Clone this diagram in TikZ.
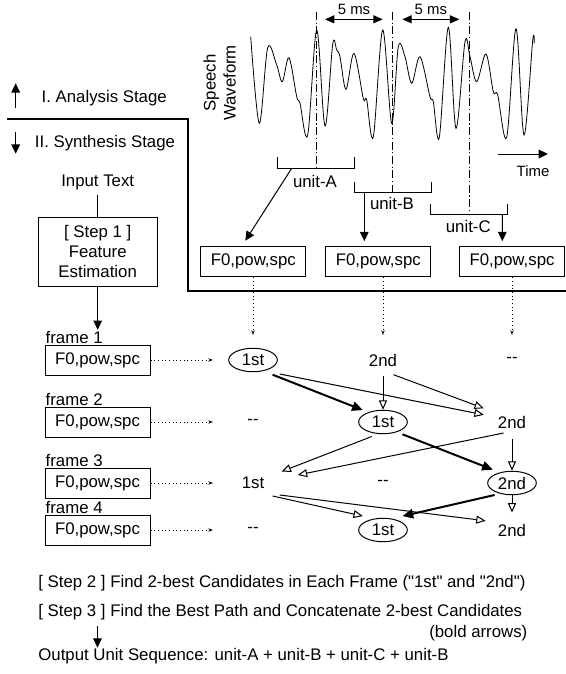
\documentclass[tikz,border=0pt]{standalone}
\usepackage{fontspec}
\setmainfont{Liberation Sans}
\newfontfamily\gerade{Liberation Sans}
\usetikzlibrary{arrows.meta,shapes.geometric}

\begin{document}
\begin{tikzpicture}[x=0.75pt,y=-0.75pt,line width=0.75pt,
  font=\fontsize{12.6}{15}\selectfont,
  kasten/.style={draw,minimum width=78.75pt,minimum height=22.5pt,inner sep=0pt},
  kand/.style={ellipse,draw,minimum width=36.5pt,minimum height=17.6pt,inner sep=0pt},
  pfeil/.style={-{Triangle[length=7pt,width=6.5pt]}},
  offen/.style={-{Triangle[open,length=7pt,width=6pt]}},
  fett/.style={line width=1.5pt,-{Triangle[length=8pt,width=7pt]}},
  punkt/.style={dotted,-{Stealth[length=3.5pt,width=2.5pt]}},
  strichpunkt/.style={dash pattern=on 6pt off 2pt on 0.8pt off 2pt},
  klein/.style={font=\fontsize{11.2}{13}\selectfont}]

\useasboundingbox (0,0) rectangle (566,674);

% Sprachsignal
\draw[line width=0.6pt] plot[smooth,tension=0.55] coordinates {
  (250.7,36.7) (259.3,123.3) (267.7,47.7) (276.7,65) (282.3,81.7) (289,57.7)
  (296.7,96.7) (300,103.3) (307.7,135) (316.7,30) (325,126) (332.7,44.3)
  (336.7,50) (340,56.7) (346,89.3) (354,53.3) (363.3,98.3) (366.7,100)
  (373.3,136.7) (382.7,30) (391.7,123.3) (398.3,46.7) (405,56.7) (411.7,83.3)
  (420,56.7) (430,96.7) (433.3,101.7) (439.3,137.3) (448.3,27.3) (456,128.3)
  (465,41.7) (470,56.7) (476.7,81.7) (486,54) (493.3,91.7) (497.7,95)
  (506.7,137.3) (516,28.7) (524,135) (532.7,40.7) (534.3,43.3)};
\node[rotate=90,align=center] (wave) at (219.5,83) {Speech\\Waveform};

% Zeitachse
\node[klein] (time) at (533,171) {Time};
\draw[pfeil] ([shift={(-35,-17)}]time.center) -- ([shift={(15,-17)}]time.center);

% Rahmenmarken, 5 ms Abstand
\coordinate (m1) at (316,12);
\coordinate (m2) at (392.3,12);
\coordinate (m3) at (469.3,12);
\draw[strichpunkt] (m1) -- (316,168.3);
\draw[strichpunkt] (m2) -- (392.3,192.3);
\draw[strichpunkt] (m3) -- (469.3,214.7);
\draw[{Triangle[length=7pt,width=6pt]}-{Triangle[length=7pt,width=6pt]}]
  ([shift={(9,7.3)}]m1) -- ([shift={(-9.6,7.3)}]m2);
\draw[{Triangle[length=7pt,width=6pt]}-{Triangle[length=7pt,width=6pt]}]
  ([shift={(10,7.3)}]m2) -- ([shift={(-10,7.3)}]m3);
\node[klein] (ms1) at (354,9.5) {5 ms};
\node[klein] (ms2) at (430.8,9.5) {5 ms};

% Einheiten
\draw (277.7,157.3) -- (277.7,168.3) -- (354.3,168.3) -- (354.3,157.3);
\draw (354.3,181.7) -- (354.3,192.3) -- (431,192.3) -- (431,181.7);
\draw (430.7,204.3) -- (430.7,214.7) -- (507.3,214.7) -- (507.3,204.3);
\node (ua) at (315,181.7) {unit-A};
\node (ub) at (392,203.5) {unit-B};
\node (uc) at (468.3,226.7) {unit-C};
\coordinate (bA) at (291.7,168.3);
\coordinate (bB) at (364.3,192.3);
\coordinate (bC) at (502.3,214.7);

\node[kasten] (u1) at (253.3,261.7) {F0,pow,spc};
\node[kasten] (u2) at (378.3,261.7) {F0,pow,spc};
\node[kasten] (u3) at (512,261.7) {F0,pow,spc};
\draw[pfeil] (bA) -- ([shift={(-8,-5.5)}]u1.north);
\draw[pfeil] (bB) -- ([shift={(-14,-5)}]u2.north);
\draw[pfeil] (bC) -- ([shift={(-9.7,-5)}]u3.north);

% Stufen
\node[anchor=west] (ana) at (36.7,97.7) {I. Analysis Stage};
\draw[pfeil] ([shift={(-21,10.6)}]ana.west) -- ++(0,-25);
\node[anchor=west] (syn) at (30,142.7) {II. Synthesis Stage};
\draw[pfeil] ([shift={(-14.3,-11)}]syn.west) -- ++(0,22);
\draw[line width=1.5pt] (7.3,119.3) -- (187.7,119.3) -- (187.7,290.5) -- (566,290.5);

% Schritt 1
\node (input) at (97.7,182.7) {Input Text};
\node[draw,align=center,minimum width=89.25pt,minimum height=51.5pt,inner sep=0pt]
  (step1) at (97.7,251.7) {[ Step 1 ]\\Feature\\Estimation};
\draw (input) -- (step1);

% Rahmen
\node[kasten] (f1) at (97.5,360) {F0,pow,spc};
\node[kasten] (f2) at (97.5,422) {F0,pow,spc};
\node[kasten] (f3) at (97.5,483) {F0,pow,spc};
\node[kasten] (f4) at (97.5,530) {F0,pow,spc};
\node[anchor=south west,inner sep=0.5pt] (fl1) at (f1.north west) {frame 1};
\node[anchor=south west,inner sep=0.5pt] (fl2) at (f2.north west) {frame 2};
\node[anchor=south west,inner sep=0.5pt] (fl3) at (f3.north west) {frame 3};
\node[anchor=south west,inner sep=0.5pt] (fl4) at (f4.north west) {frame 4};
\draw[pfeil] (step1) -- (step1.south |- fl1.north);

% Kandidaten
\node[kand] (k11) at (253,360) {1st};
\node (k12) at (383,360) {2nd};
\node (k13) at (512,360) {-{}-};
\node (k21) at (253,422) {-{}-};
\node[kand] (k22) at (383,422) {1st};
\node (k23) at (512,422) {2nd};
\node (k31) at (253,483) {1st};
\node (k32) at (383,483) {-{}-};
\node[kand] (k33) at (512,483) {2nd};
\node (k41) at (253,530) {-{}-};
\node[kand] (k42) at (383,530) {1st};
\node (k43) at (512,530) {2nd};

\draw[punkt] (u1.south -| k11) -- ([shift={(0,-25)}]k11.center);
\draw[punkt] (u2.south -| k12) -- ([shift={(0,-25)}]k12.center);
\draw[punkt] (u3.south -| k13) -- ([shift={(0,-25)}]k13.center);
\draw[punkt] (f1.east) -- ([shift={(-40,0)}]k11.center);
\draw[punkt] (f2.east) -- ([shift={(-40,0)}]k21.center);
\draw[punkt] (f3.east) -- ([shift={(-40,0)}]k31.center);
\draw[punkt] (f4.east) -- ([shift={(-40,0)}]k41.center);

% Uebergaenge
\draw[fett] ([shift={(19.6,14.7)}]k11.center) -- ([shift={(-20.2,-11.9)}]k22.center);
\draw[offen] ([shift={(26.8,14)}]k11.center) -- ([shift={(-28.2,-7.2)}]k23.center);
\draw[offen] ([shift={(0,15.8)}]k12.center) -- (k22.north);
\draw[offen] ([shift={(10.5,14.7)}]k12.center) -- ([shift={(-28.2,-13.7)}]k23.center);

\draw[fett] ([shift={(19.5,12.3)}]k22.center) -- ([shift={(-19.2,-13.3)}]k33.center);
\draw[offen] ([shift={(-11.2,14.5)}]k22.center) -- ([shift={(28.6,-11.5)}]k31.center);
\draw[offen] ([shift={(-8.4,11)}]k23.center) -- ([shift={(44.8,-8)}]k31.center);
\draw[offen] ([shift={(0,17)}]k23.center) -- (k33.north);

\draw[offen] ([shift={(19.6,13)}]k31.center) -- ([shift={(-20.2,-13.9)}]k42.center);
\draw[offen] ([shift={(26.8,12)}]k31.center) -- ([shift={(-26.4,-9.2)}]k43.center);
\draw[fett] ([shift={(-17.4,12)}]k33.center) -- ([shift={(19.5,-13.9)}]k42.center);
\draw[offen] (k33.south) -- ([shift={(0,-17.5)}]k43.center);

% Schritte 2 und 3
\node[anchor=west,inner sep=0pt] (step2) at (37.9,583)
  {[ Step 2 ] Find 2-best Candidates in Each Frame ({\gerade"1st"} and {\gerade"2nd"})};
\node[anchor=west,inner sep=0pt] (step3) at (37.9,612)
  {[ Step 3 ] Find the Best Path and Concatenate 2-best Candidates};
\node[anchor=east,inner sep=0pt] (bold) at (527.8,633) {(bold arrows)};
\node[anchor=west,inner sep=0pt] (out) at (37.9,656)
  {Output Unit Sequence: unit-A + unit-B + unit-C + unit-B};
\coordinate (s3) at (97.5,626);
\draw[pfeil] (s3) -- (s3 |- out.north);

\end{tikzpicture}
\end{document}
